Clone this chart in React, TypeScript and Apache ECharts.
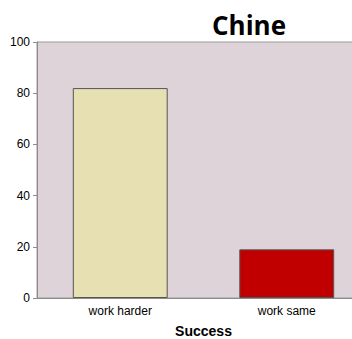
import React, { useEffect, useRef } from "react";
import * as echarts from "echarts";

const categories = ["work harder", "work same"];
const values = [82, 19];
const barColors = ["#E6E0B3", "#C00000"];
const yTicks = [0, 20, 40, 60, 80, 100];

export default function App() {
  const ref = useRef<HTMLDivElement>(null);

  useEffect(() => {
    if (!ref.current) return;
    const chart = echarts.init(ref.current, null, { renderer: "svg" });
    chart.setOption({
      animation: false,
      backgroundColor: "#ffffff",
      title: {
        text: "Chine",
        left: 244,
        top: 7,
        textAlign: "center",
        textStyle: {
          fontFamily: "Open Sans",
          fontWeight: "bold",
          fontSize: 26,
          color: "#000",
        },
      },
      grid: {
        left: 37,
        right: -18,
        top: 42,
        bottom: 41,
        outerBoundsMode: "none",
        containLabel: false,
        show: true,
        backgroundColor: "#DDD3D8",
        borderColor: "#9a9a9a",
        borderWidth: 1,
      },
      xAxis: {
        type: "category",
        data: categories,
        name: "Success",
        nameLocation: "middle",
        nameGap: 26,
        nameTextStyle: {
          fontFamily: "Liberation Sans",
          fontWeight: "bold",
          fontSize: 14,
          color: "#000",
        },
        axisLine: { show: true, lineStyle: { color: "#8c8c8c" } },
        axisTick: { show: false },
        axisLabel: {
          fontFamily: "Liberation Sans",
          fontSize: 12,
          color: "#000",
          margin: 7,
        },
      },
      yAxis: {
        type: "value",
        min: yTicks[0],
        max: yTicks[yTicks.length - 1],
        interval: 20,
        splitLine: { show: false },
        axisLine: { show: true, lineStyle: { color: "#8c8c8c" } },
        axisTick: { show: true, length: 4, lineStyle: { color: "#8c8c8c" } },
        axisLabel: {
          fontFamily: "Liberation Sans",
          fontSize: 12,
          color: "#000",
          margin: 7,
        },
      },
      series: [
        {
          type: "bar",
          barWidth: "57%",
          data: values.map((v, i) => ({
            value: v,
            itemStyle: {
              color: barColors[i],
              borderColor: "#555555",
              borderWidth: 1,
            },
          })),
        },
      ],
    });
    return () => chart.dispose();
  }, []);

  return (
    <div
      ref={ref}
      style={{ position: "fixed", left: 0, top: 0, width: 352, height: 339 }}
    />
  );
}
